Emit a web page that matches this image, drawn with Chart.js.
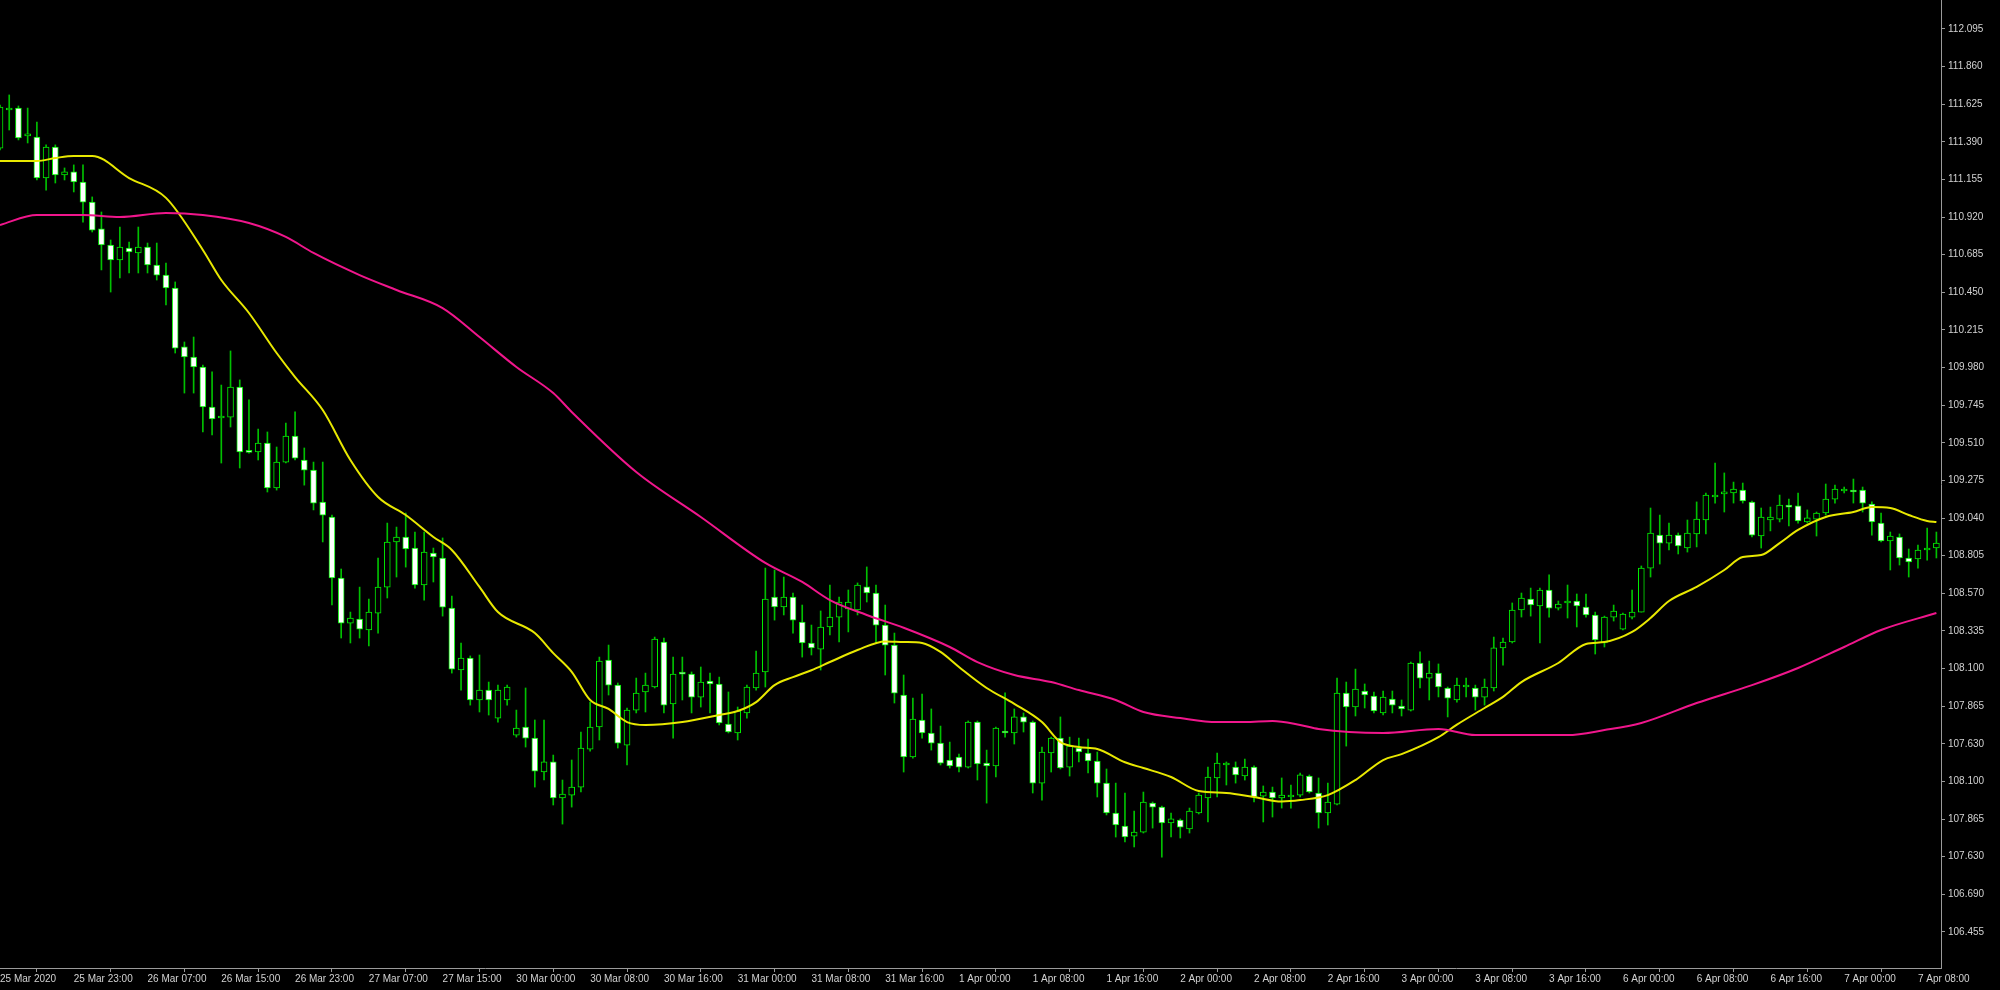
<!DOCTYPE html>
<html>
<head>
<meta charset="utf-8">
<style>
html,body{margin:0;padding:0;background:#000;overflow:hidden;}
#wrap{position:relative;width:2000px;height:990px;background:#000;}
</style>
<script src="https://cdn.jsdelivr.net/npm/chart.js@4.4.1/dist/chart.umd.min.js"></script>
</head>
<body>
<div id="wrap"><canvas id="c" width="2000" height="990"></canvas></div>
<script>
// ---- time axis labels (one every 8 hourly bars) ----
const timeLabels = ["25 Mar 2020","25 Mar 23:00","26 Mar 07:00","26 Mar 15:00","26 Mar 23:00","27 Mar 07:00","27 Mar 15:00","30 Mar 00:00","30 Mar 08:00","30 Mar 16:00","31 Mar 00:00","31 Mar 08:00","31 Mar 16:00","1 Apr 00:00","1 Apr 08:00","1 Apr 16:00","2 Apr 00:00","2 Apr 08:00","2 Apr 16:00","3 Apr 00:00","3 Apr 08:00","3 Apr 16:00","6 Apr 00:00","6 Apr 08:00","6 Apr 16:00","7 Apr 00:00","7 Apr 08:00"];
const timeLabelBars = [0,8,16,24,32,40,48,56,64,72,80,88,96,104,112,120,128,136,144,152,160,168,176,184,192,200,208];

// ---- price axis ticks (values and the text printed at them) ----
const priceTickValues = [112.095,111.860,111.625,111.390,111.155,110.920,110.685,110.450,110.215,109.980,109.745,109.510,109.275,109.040,108.805,108.570,108.335,108.100,107.865,107.630,107.395,107.160,106.925,106.690,106.455];
const priceTickLabels = ["112.095","111.860","111.625","111.390","111.155","110.920","110.685","110.450","110.215","109.980","109.745","109.510","109.275","109.040","108.805","108.570","108.335","108.100","107.865","107.630","108.100","107.865","107.630","106.690","106.455"];

// ---- hourly candles ----
const open = [111.351,111.589,111.601,111.427,111.420,111.164,111.358,111.183,111.202,111.139,
111.014,110.846,110.746,110.652,110.727,110.696,110.733,110.621,110.558,110.477,
110.109,110.046,109.984,109.734,109.665,109.671,109.859,109.459,109.453,109.509,
109.228,109.390,109.553,109.403,109.340,109.140,109.047,108.666,108.384,108.409,
108.341,108.447,108.609,108.891,108.922,108.853,108.622,108.822,108.791,108.478,
108.091,108.166,107.904,107.966,107.791,107.904,107.685,107.735,107.666,107.454,
107.517,107.292,107.310,107.360,107.597,107.735,108.154,107.997,107.622,107.841,
107.954,107.985,108.266,107.879,108.079,108.066,107.922,108.022,108.004,107.754,
107.698,107.823,107.979,108.079,108.547,108.485,108.547,108.391,108.260,108.222,
108.360,108.422,108.472,108.466,108.610,108.572,108.372,108.247,107.935,107.548,
107.779,107.698,107.635,107.529,107.548,107.485,107.766,107.510,107.492,107.710,
107.698,107.798,107.766,107.385,107.573,107.666,107.485,107.604,107.573,107.523,
107.385,107.198,107.117,107.054,107.079,107.260,107.235,107.136,107.154,107.098,
107.198,107.292,107.417,107.498,107.485,107.429,107.485,107.304,107.329,107.292,
107.298,107.310,107.429,107.323,107.198,107.254,107.947,107.860,107.960,107.929,
107.823,107.910,107.866,107.841,108.135,108.041,108.072,107.979,107.904,107.985,
107.979,107.922,107.979,108.229,108.266,108.466,108.535,108.491,108.591,108.478,
108.510,108.522,108.485,108.435,108.260,108.422,108.347,108.422,108.453,108.728,
108.934,108.884,108.934,108.853,108.941,109.028,109.172,109.191,109.197,109.215,
109.140,108.928,109.028,109.034,109.122,109.116,109.016,109.034,109.072,109.159,
109.209,109.215,109.215,109.128,109.009,108.897,108.922,108.791,108.785,108.841,
108.853];
const high = [111.620,111.683,111.614,111.601,111.514,111.371,111.371,111.227,111.246,111.246,
111.046,110.952,110.777,110.858,110.764,110.858,110.758,110.758,110.633,110.515,
110.140,110.171,109.996,109.953,109.871,110.084,109.903,109.778,109.596,109.578,
109.484,109.634,109.703,109.478,109.390,109.390,109.059,108.722,108.453,108.609,
108.534,108.791,109.009,108.984,109.072,108.953,108.953,108.853,108.916,108.553,
108.260,108.179,108.185,108.016,107.997,107.997,107.841,107.979,107.779,107.779,
107.560,107.404,107.529,107.704,107.891,108.172,108.247,108.010,107.854,108.041,
108.072,108.297,108.291,108.172,108.172,108.079,108.110,108.072,108.047,107.954,
107.860,107.997,108.210,108.728,108.716,108.672,108.572,108.497,108.372,108.460,
108.622,108.547,108.591,108.635,108.735,108.622,108.497,108.322,108.060,107.916,
107.941,107.848,107.741,107.641,107.566,107.773,107.773,107.591,107.735,107.948,
107.848,107.823,107.773,107.610,107.672,107.798,107.672,107.666,107.660,107.579,
107.473,107.385,107.323,107.210,107.329,107.267,107.242,107.198,107.161,107.229,
107.323,107.485,107.573,107.517,107.517,107.535,107.492,107.367,107.360,107.417,
107.373,107.448,107.436,107.417,107.385,108.041,108.016,108.097,108.004,107.954,
107.960,107.960,107.904,108.141,108.204,108.147,108.129,107.985,108.041,108.041,
107.997,108.035,108.297,108.291,108.510,108.572,108.603,108.603,108.685,108.522,
108.622,108.566,108.566,108.453,108.428,108.497,108.447,108.591,108.741,109.103,
109.059,109.009,108.947,109.028,109.141,109.197,109.384,109.322,109.265,109.259,
109.147,109.103,109.109,109.184,109.159,109.197,109.091,109.078,109.253,109.247,
109.234,109.284,109.234,109.141,109.072,108.953,108.941,108.847,108.872,108.978,
108.953];
const low = [111.339,111.464,111.402,111.383,111.152,111.089,111.133,111.152,111.077,110.889,
110.827,110.590,110.452,110.540,110.571,110.571,110.571,110.527,110.371,110.071,
109.821,109.821,109.578,109.559,109.384,109.609,109.353,109.446,109.403,109.203,
109.215,109.384,109.403,109.246,109.091,108.891,108.497,108.291,108.260,108.291,
108.241,108.322,108.541,108.672,108.734,108.603,108.528,108.641,108.428,108.072,
107.966,107.872,107.829,107.810,107.766,107.872,107.672,107.610,107.360,107.404,
107.248,107.129,107.235,107.329,107.585,107.654,107.935,107.604,107.498,107.823,
107.829,107.979,107.823,107.666,107.904,107.823,107.860,107.823,107.748,107.698,
107.654,107.791,107.966,107.985,108.403,108.435,108.322,108.172,108.185,108.091,
108.310,108.266,108.329,108.435,108.516,108.260,108.060,107.885,107.454,107.541,
107.666,107.591,107.498,107.479,107.454,107.479,107.404,107.260,107.423,107.672,
107.629,107.704,107.323,107.279,107.454,107.473,107.429,107.517,107.448,107.298,
107.186,107.048,107.017,106.986,107.073,107.104,106.923,107.048,107.042,107.073,
107.192,107.142,107.298,107.373,107.385,107.404,107.267,107.142,107.173,107.229,
107.229,107.298,107.323,107.104,107.123,107.248,107.616,107.804,107.854,107.823,
107.810,107.823,107.804,107.835,107.979,107.904,107.923,107.798,107.891,107.923,
107.841,107.872,107.960,108.122,108.260,108.422,108.428,108.260,108.422,108.466,
108.416,108.360,108.422,108.191,108.235,108.397,108.341,108.410,108.453,108.672,
108.753,108.841,108.816,108.828,108.860,108.941,109.134,109.078,109.134,109.134,
108.922,108.853,108.960,109.016,108.991,109.009,109.009,108.928,109.059,109.134,
109.197,109.134,109.078,108.934,108.891,108.716,108.747,108.672,108.728,108.778,
108.791];
const close = [111.607,111.601,111.414,111.439,111.164,111.358,111.183,111.202,111.139,111.014,
110.839,110.746,110.652,110.733,110.702,110.733,110.621,110.558,110.477,110.102,
110.046,109.984,109.734,109.659,109.678,109.859,109.453,109.451,109.509,109.228,
109.390,109.553,109.415,109.340,109.134,109.059,108.666,108.384,108.416,108.347,
108.453,108.609,108.891,108.922,108.847,108.622,108.828,108.797,108.484,108.097,
108.166,107.904,107.966,107.904,107.966,107.985,107.729,107.666,107.460,107.517,
107.292,107.317,107.360,107.604,107.735,108.147,107.997,107.635,107.841,107.947,
107.997,108.285,107.872,108.066,108.066,107.922,108.016,108.004,107.760,107.704,
107.835,107.985,108.072,108.535,108.485,108.547,108.403,108.260,108.229,108.360,
108.422,108.516,108.516,108.622,108.572,108.372,108.247,107.947,107.548,107.785,
107.698,107.635,107.510,107.492,107.485,107.766,107.504,107.492,107.729,107.698,
107.798,107.766,107.385,107.579,107.666,107.479,107.616,107.579,107.523,107.385,
107.198,107.123,107.048,107.079,107.267,107.235,107.136,107.161,107.110,107.210,
107.310,107.423,107.510,107.510,107.436,107.485,107.298,107.329,107.292,107.310,
107.310,107.436,107.329,107.198,107.267,107.947,107.860,107.972,107.935,107.835,
107.922,107.872,107.848,108.135,108.041,108.072,107.985,107.916,107.997,107.997,
107.922,107.985,108.229,108.266,108.466,108.541,108.497,108.591,108.478,108.503,
108.522,108.491,108.435,108.279,108.422,108.460,108.441,108.453,108.728,108.947,
108.884,108.934,108.866,108.947,109.034,109.184,109.184,109.197,109.222,109.147,
108.934,109.047,109.047,109.122,109.109,109.022,109.041,109.072,109.159,109.222,
109.222,109.203,109.134,109.016,108.897,108.928,108.791,108.766,108.841,108.853,
108.884];

// ---- moving averages, read at selected bars ----
const maFastBars = [0,4,6,8,10,14,18,22,24,27,30,32,35,38,41,44,47,49,52,54,58,60,62,64,66,68,70,74,78,80,82,84,86,88,90,93,96,98,100,102,104,107,110,113,115,117,119,122,124,127,130,133,136,139,141,144,147,150,152,156,158,161,163,165,169,172,174,177,179,181,184,187,189,191,193,195,198,201,203,205,207,209,210];
const maFastVals = [111.270,111.270,111.289,111.302,111.302,111.164,111.040,110.715,110.527,110.321,110.071,109.921,109.715,109.403,109.172,109.059,108.922,108.841,108.610,108.453,108.322,108.197,108.080,107.904,107.848,107.766,107.748,107.766,107.810,107.835,107.891,107.997,108.047,108.090,108.141,108.216,108.270,108.266,108.260,108.204,108.110,107.979,107.880,107.766,107.641,107.610,107.598,107.515,107.479,107.423,107.335,107.323,107.298,107.270,107.279,107.310,107.404,107.529,107.566,107.672,107.750,107.854,107.923,108.016,108.135,108.254,108.266,108.329,108.416,108.522,108.610,108.716,108.797,108.809,108.884,108.966,109.047,109.078,109.109,109.103,109.059,109.022,109.016];
const maSlowBars = [0,4,9,13,18,22,27,31,34,39,43,48,52,56,60,62,69,76,83,87,90,94,98,103,106,110,114,117,121,124,128,132,135,138,141,143,150,156,160,170,174,178,184,190,195,200,204,210];
const maSlowVals = [110.871,110.933,110.933,110.921,110.946,110.933,110.883,110.796,110.696,110.558,110.465,110.352,110.171,109.984,109.821,109.703,109.328,109.047,108.760,108.641,108.528,108.435,108.355,108.235,108.141,108.060,108.016,107.966,107.904,107.829,107.791,107.766,107.766,107.773,107.748,107.723,107.698,107.723,107.685,107.685,107.716,107.760,107.885,107.997,108.104,108.235,108.341,108.447];

// ---- build datasets ----
const idx = open.map((_, i) => i);
const wickData = idx.map(i => ({x: i, y: [low[i], high[i]]}));
const bodyData = idx.map(i => ({x: i, y: [Math.min(open[i], close[i]), Math.max(open[i], close[i])]}));
const bodyFill = idx.map(i => close[i] < open[i] ? '#ffffff' : '#000000');
const fastLine = maFastBars.map((b, k) => ({x: b, y: maFastVals[k]}));
const slowLine = maSlowBars.map((b, k) => ({x: b, y: maSlowVals[k]}));

const axisGray = '#9a9a9a';
const labelColor = '#d2d2d2';
const fontSpec = {family: 'Liberation Sans, Arial, sans-serif', size: 10};

new Chart(document.getElementById('c'), {
  data: {
    datasets: [
      {type: 'line', data: slowLine, borderColor: '#f0168c', borderWidth: 2, pointRadius: 0, cubicInterpolationMode: 'monotone', order: 0},
      {type: 'line', data: fastLine, borderColor: '#e8e800', borderWidth: 2, pointRadius: 0, cubicInterpolationMode: 'monotone', order: 0},
      {type: 'bar', data: bodyData, backgroundColor: bodyFill, borderColor: '#00ee00', borderWidth: 1, borderSkipped: false, barThickness: 6, minBarLength: 2, grouped: false, order: 1},
      {type: 'bar', data: wickData, backgroundColor: '#00c000', borderWidth: 0, barThickness: 1, minBarLength: 1, grouped: false, order: 2}
    ]
  },
  options: {
    responsive: false,
    animation: false,
    devicePixelRatio: 1,
    layout: {padding: 0},
    plugins: {legend: {display: false}, tooltip: {enabled: false}},
    scales: {
      x: {
        type: 'linear',
        position: 'bottom',
        min: 0,
        max: 210.5,
        offset: false,
        grid: {display: true, drawOnChartArea: false, drawTicks: true, tickLength: 4, color: axisGray, lineWidth: 1},
        border: {display: true, color: axisGray, width: 1},
        ticks: {
          autoSkip: false, maxRotation: 0, minRotation: 0, align: 'start', padding: 1,
          color: labelColor, font: fontSpec,
          callback: function(v) { const k = timeLabelBars.indexOf(v); return k >= 0 ? timeLabels[k] : ''; }
        },
        afterBuildTicks: function(s) { s.ticks = timeLabelBars.map(v => ({value: v})); },
        afterFit: function(s) { s.height = 22; s.paddingLeft = 0; s.paddingRight = 0; }
      },
      y: {
        type: 'linear',
        position: 'right',
        min: 106.230,
        max: 112.276,
        grid: {display: true, drawOnChartArea: false, drawTicks: true, tickLength: 4, color: axisGray, lineWidth: 1},
        border: {display: true, color: axisGray, width: 1},
        ticks: {
          padding: 3, color: labelColor, font: fontSpec,
          callback: function(v, i) { return priceTickLabels[i]; }
        },
        afterBuildTicks: function(s) { s.ticks = priceTickValues.map(v => ({value: v})); },
        afterFit: function(s) { s.width = 59; s.paddingTop = 0; s.paddingBottom = 0; }
      }
    }
  }
});
</script>
</body>
</html>
